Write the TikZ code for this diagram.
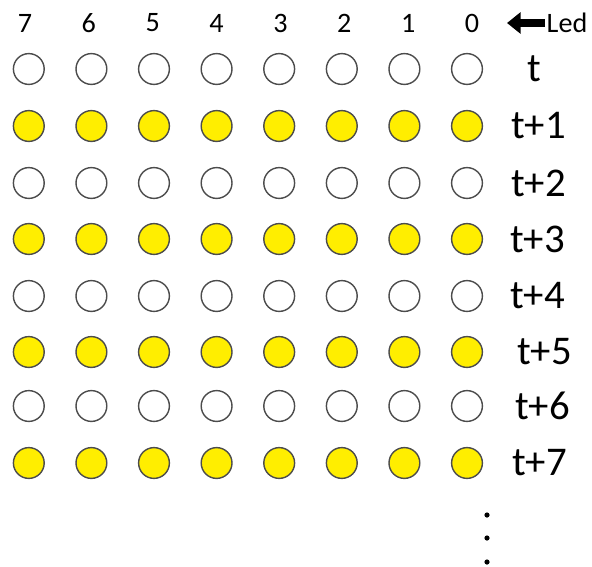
\documentclass[tikz,border=0pt]{standalone}
\usepackage{fontspec}
\setmainfont{Carlito}
\usetikzlibrary{arrows.meta, positioning}
\definecolor{ledyellow}{RGB}{255,238,0}

\begin{document}
\begin{tikzpicture}[
        x=0.025cm, y=-0.025cm,
        led/.style={circle, draw=black!70, line width=1pt, minimum size=0.77cm, inner sep=0pt},
        on/.style={led, fill=ledyellow},
        off/.style={led, fill=white},
        num/.style={font=\fontsize{20}{24}\selectfont},
        lbl/.style={anchor=west, inner sep=0pt, font=\fontsize{29}{34}\selectfont}
    ]
        \useasboundingbox (0,0) rectangle (592,566);

        % Led numbers
        \foreach \i in {0,...,7} { \node[num] (n\i) at ({472-63.86*\i}, 23) {\i}; }
        \node[num, anchor=west, inner sep=1pt] (led) at (545, 23) {Led};
        \coordinate (tip) at (507, 23);
        \draw[line width=5.6pt, -{Triangle[length=0.34cm, width=0.52cm]}] (led.west) -- (tip);

        % Rows of leds
        \foreach \y/\st/\lx/\txt [count=\k from 0] in {69/off/527/t, 126/on/511/t+1, 183/off/511/t+2,
            239/on/510/t+3, 296/off/510/t+4, 352/on/517/t+5, 406/off/515/t+6, 463/on/512/t+7} {
            \foreach \i in {0,...,7} { \node[\st] (l\k\i) at ({467-62.6*\i}, \y) {}; }
            \node[lbl] (r\k) at (\lx, \y) {\txt};
        }

        % More rows
        \foreach \y in {515, 538, 562} { \fill (487, \y) circle (2.6); }
    \end{tikzpicture}
\end{document}
